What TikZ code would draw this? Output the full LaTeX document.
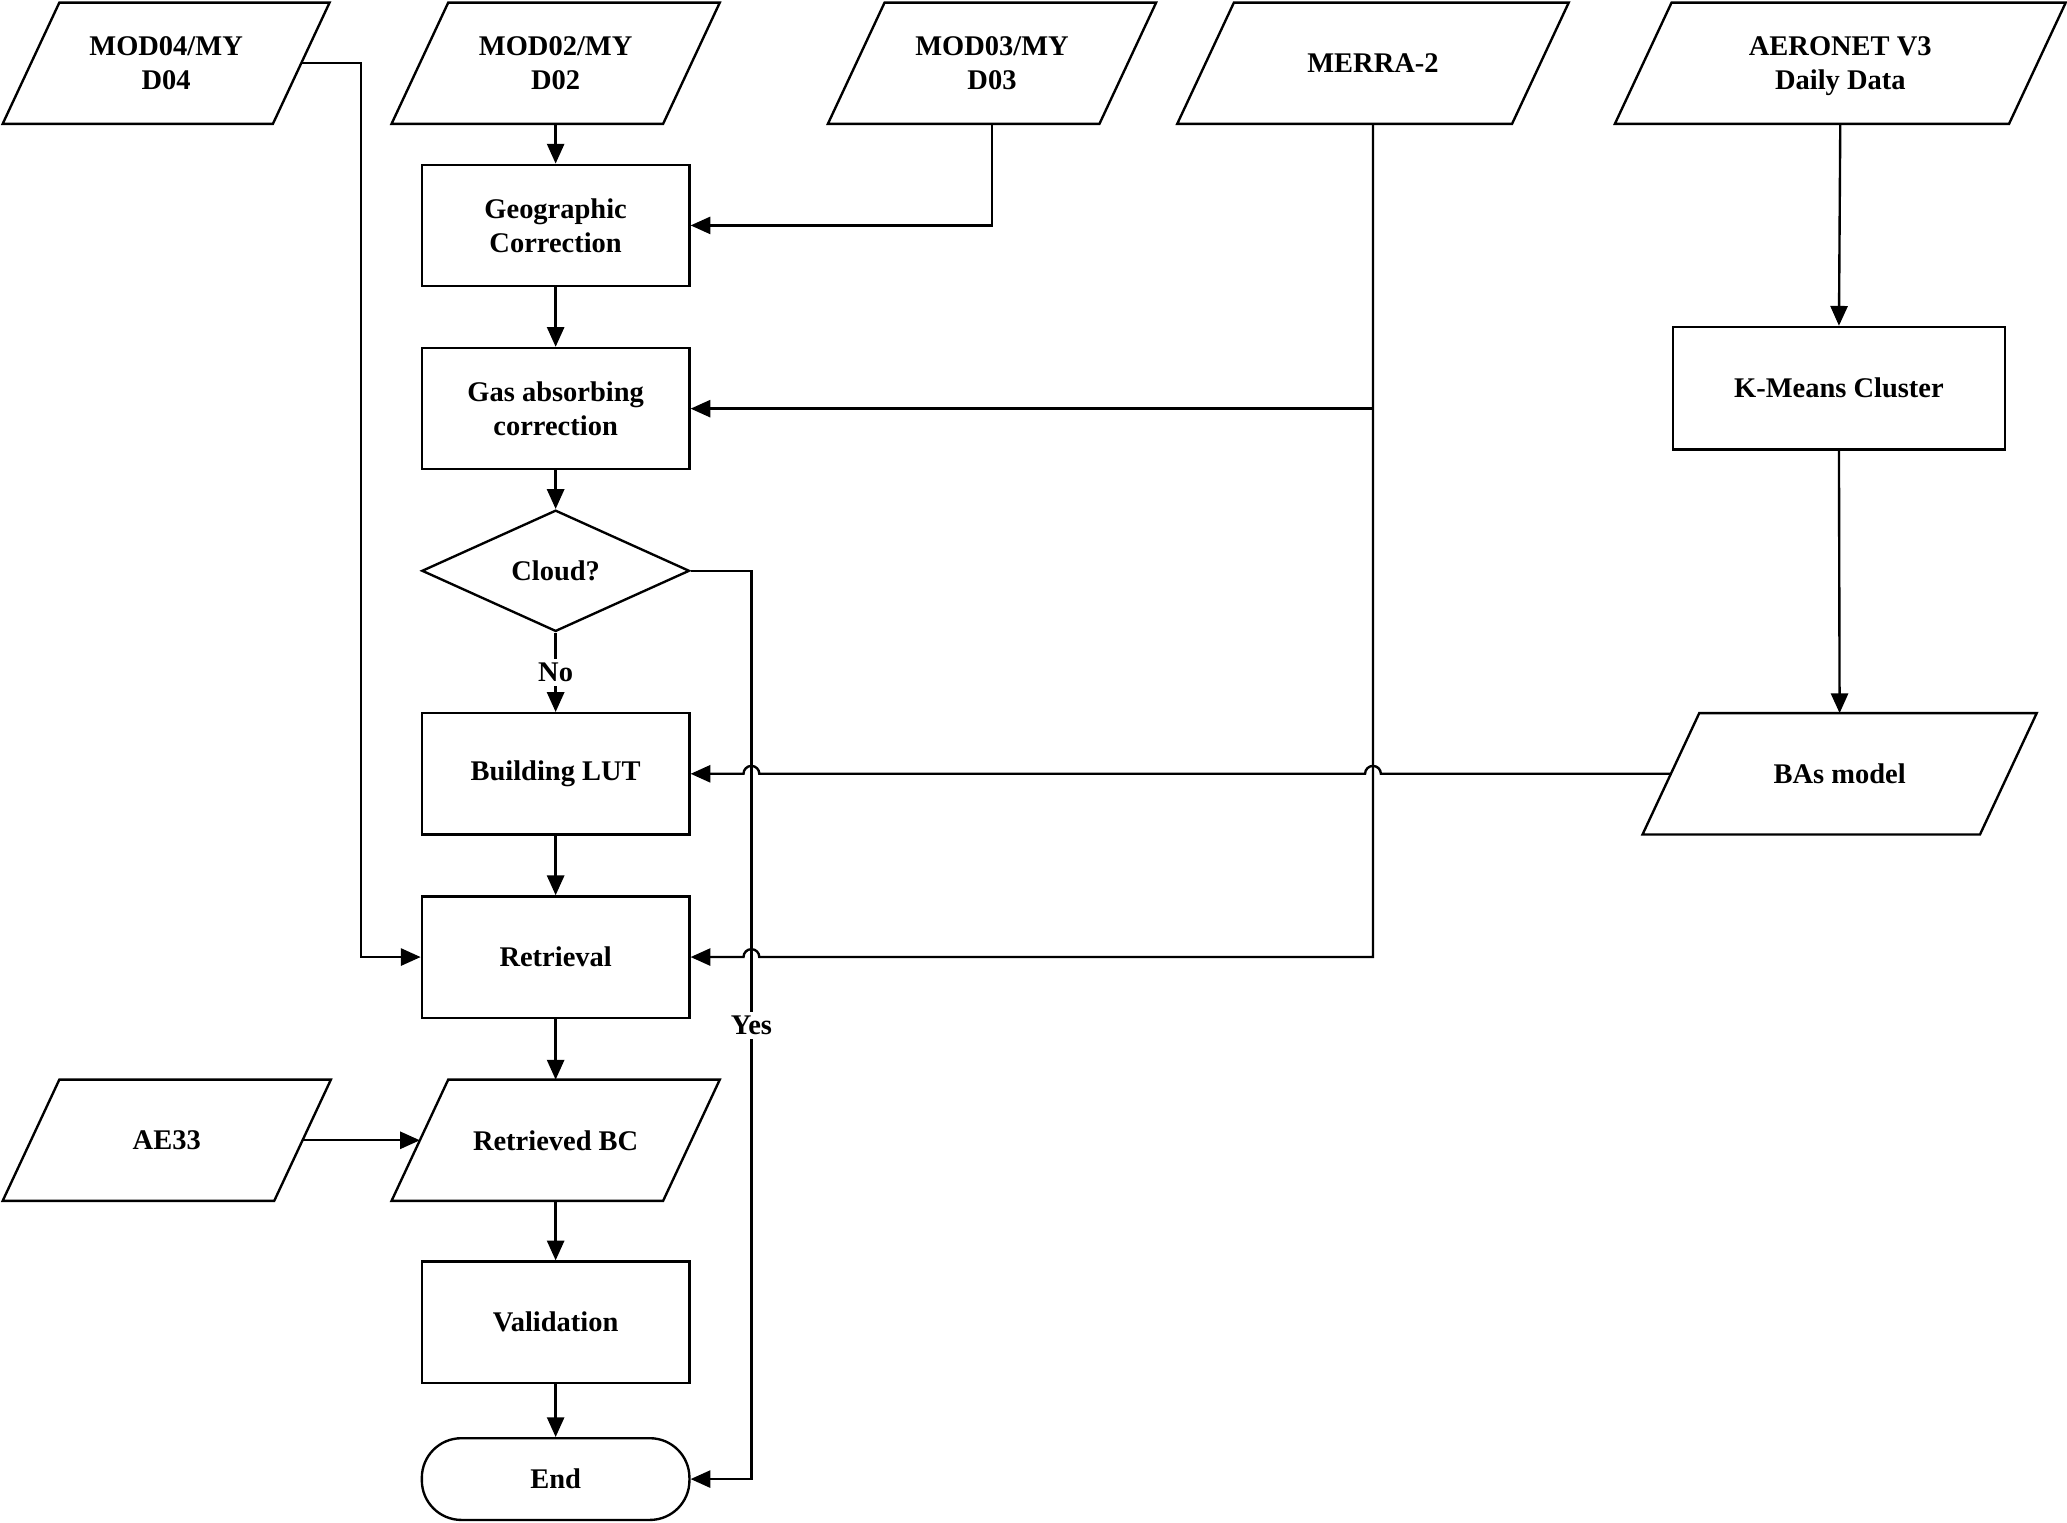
\documentclass[tikz,border=0pt]{standalone}
\usepackage{fontspec}
\setmainfont{Liberation Serif}
\usetikzlibrary{shapes.geometric,arrows.meta,calc}
\newcommand\drawpara[1]{\draw[ln] ($(#1.north west)+(21.5pt,0)$) -- (#1.north east) -- ($(#1.south east)+(-21.5pt,0)$) -- (#1.south west) -- cycle;}
\begin{document}
\begin{tikzpicture}[x=0.5pt,y=-0.5pt,
  every node/.style={font=\bfseries\fontsize{10.8pt}{13pt}\selectfont, line width=0.9pt, align=center, inner sep=0pt},
  box/.style={draw, rectangle, minimum width=101.5pt, minimum height=46pt},
  io/.style={rectangle, outer sep=0pt, text depth=0pt, minimum height=46pt},
  dec/.style={draw, diamond, minimum width=101.5pt, minimum height=46pt},
  term/.style={draw, rectangle, rounded corners=15pt, minimum width=101.5pt, minimum height=31pt},
  lbl/.style={fill=white, inner sep=1.5pt},
  arr/.style={-{Triangle[length=7.5pt,width=6.5pt]}, line width=0.9pt},
  ln/.style={line width=0.9pt}]
\useasboundingbox (0,0) rectangle (1568,1155);

% input/output nodes (parallelograms)
\node[io, minimum width=124pt] (mod04) at (126,48) {MOD04/MY\\D04};
\node[io, minimum width=124.5pt] (mod02) at (421.5,48) {MOD02/MY\\D02};
\node[io, minimum width=124.5pt] (mod03) at (752.5,48) {MOD03/MY\\D03};
\node[io, minimum width=148.5pt] (merra) at (1041.5,48) {MERRA-2};
\node[io, minimum width=171pt] (aero) at (1396,48) {AERONET V3\\Daily Data};
\node[io, minimum width=149.5pt] (bas) at (1395.5,587) {BAs model};
\node[io, minimum width=124.5pt] (ae33) at (126.5,865) {AE33};
\node[io, minimum width=124.5pt] (rbc) at (421.5,865) {Retrieved BC};
\drawpara{mod04}
\drawpara{mod02}
\drawpara{mod03}
\drawpara{merra}
\drawpara{aero}
\drawpara{bas}
\drawpara{ae33}
\drawpara{rbc}

% process nodes
\node[box] (geo) at (421.5,171) {Geographic\\Correction};
\node[box] (gas) at (421.5,310) {Gas absorbing\\correction};
\node[dec] (cloud) at (421.5,433) {Cloud?};
\node[box] (lut) at (421.5,587) {Building LUT};
\node[box] (ret) at (421.5,726) {Retrieval};
\node[box] (val) at (421.5,1003) {Validation};
\node[term] (end) at (421.5,1122) {End};
\node[box, minimum width=126pt, minimum height=46.5pt] (km) at (1395,294.5) {K-Means Cluster};

% helper coordinates
\coordinate (cr) at (570,433);
\coordinate (m4x) at (274,48);
\coordinate (mod04e) at ($(mod04.east)+(-10.75pt,0)$);
\coordinate (ae33e) at ($(ae33.east)+(-10.75pt,0)$);
\coordinate (rbcw) at ($(rbc.west)+(10.75pt,0)$);
\coordinate (basw) at ($(bas.west)+(10.75pt,0)$);

% connectors
\draw[arr] (mod02.south) -- (geo.north);
\draw[arr] (mod03.south) |- (geo.east);
\draw[arr] (geo.south) -- (gas.north);
\draw[arr] (merra.south) |- (gas.east);
\draw[arr] (gas.south) -- (cloud.north);
\draw[arr] (cloud.south) -- (lut.north);
\draw[arr] (lut.south) -- (ret.north);
\draw[arr] (ret.south) -- (rbc.north);
\draw[arr] (rbc.south) -- (val.north);
\draw[arr] (val.south) -- (end.north);
\draw[arr] (ae33e) -- (rbcw);
\draw[arr] (aero.south) -- (km.north);
\draw[arr] (km.south) -- (bas.north);
\draw[arr] (mod04e) -- (m4x) |- (ret.west);
\draw[arr] (cloud.east) -- (cr) |- (end.east);
\draw[arr] (merra.south) -- (merra.south |- ret.east)
  -- ($(cr |- ret.east)+(3pt,0)$) arc[start angle=0, end angle=180, radius=3pt]
  -- (ret.east);
\draw[arr] (basw)
  -- ($(merra.south |- bas.west)+(3pt,0)$) arc[start angle=0, end angle=180, radius=3pt]
  -- ($(cr |- bas.west)+(3pt,0)$) arc[start angle=0, end angle=180, radius=3pt]
  -- (lut.east);

% labels
\node[lbl] (no) at (421.5,510) {No};
\node[lbl] (yes) at (570,778) {Yes};
\end{tikzpicture}
\end{document}
